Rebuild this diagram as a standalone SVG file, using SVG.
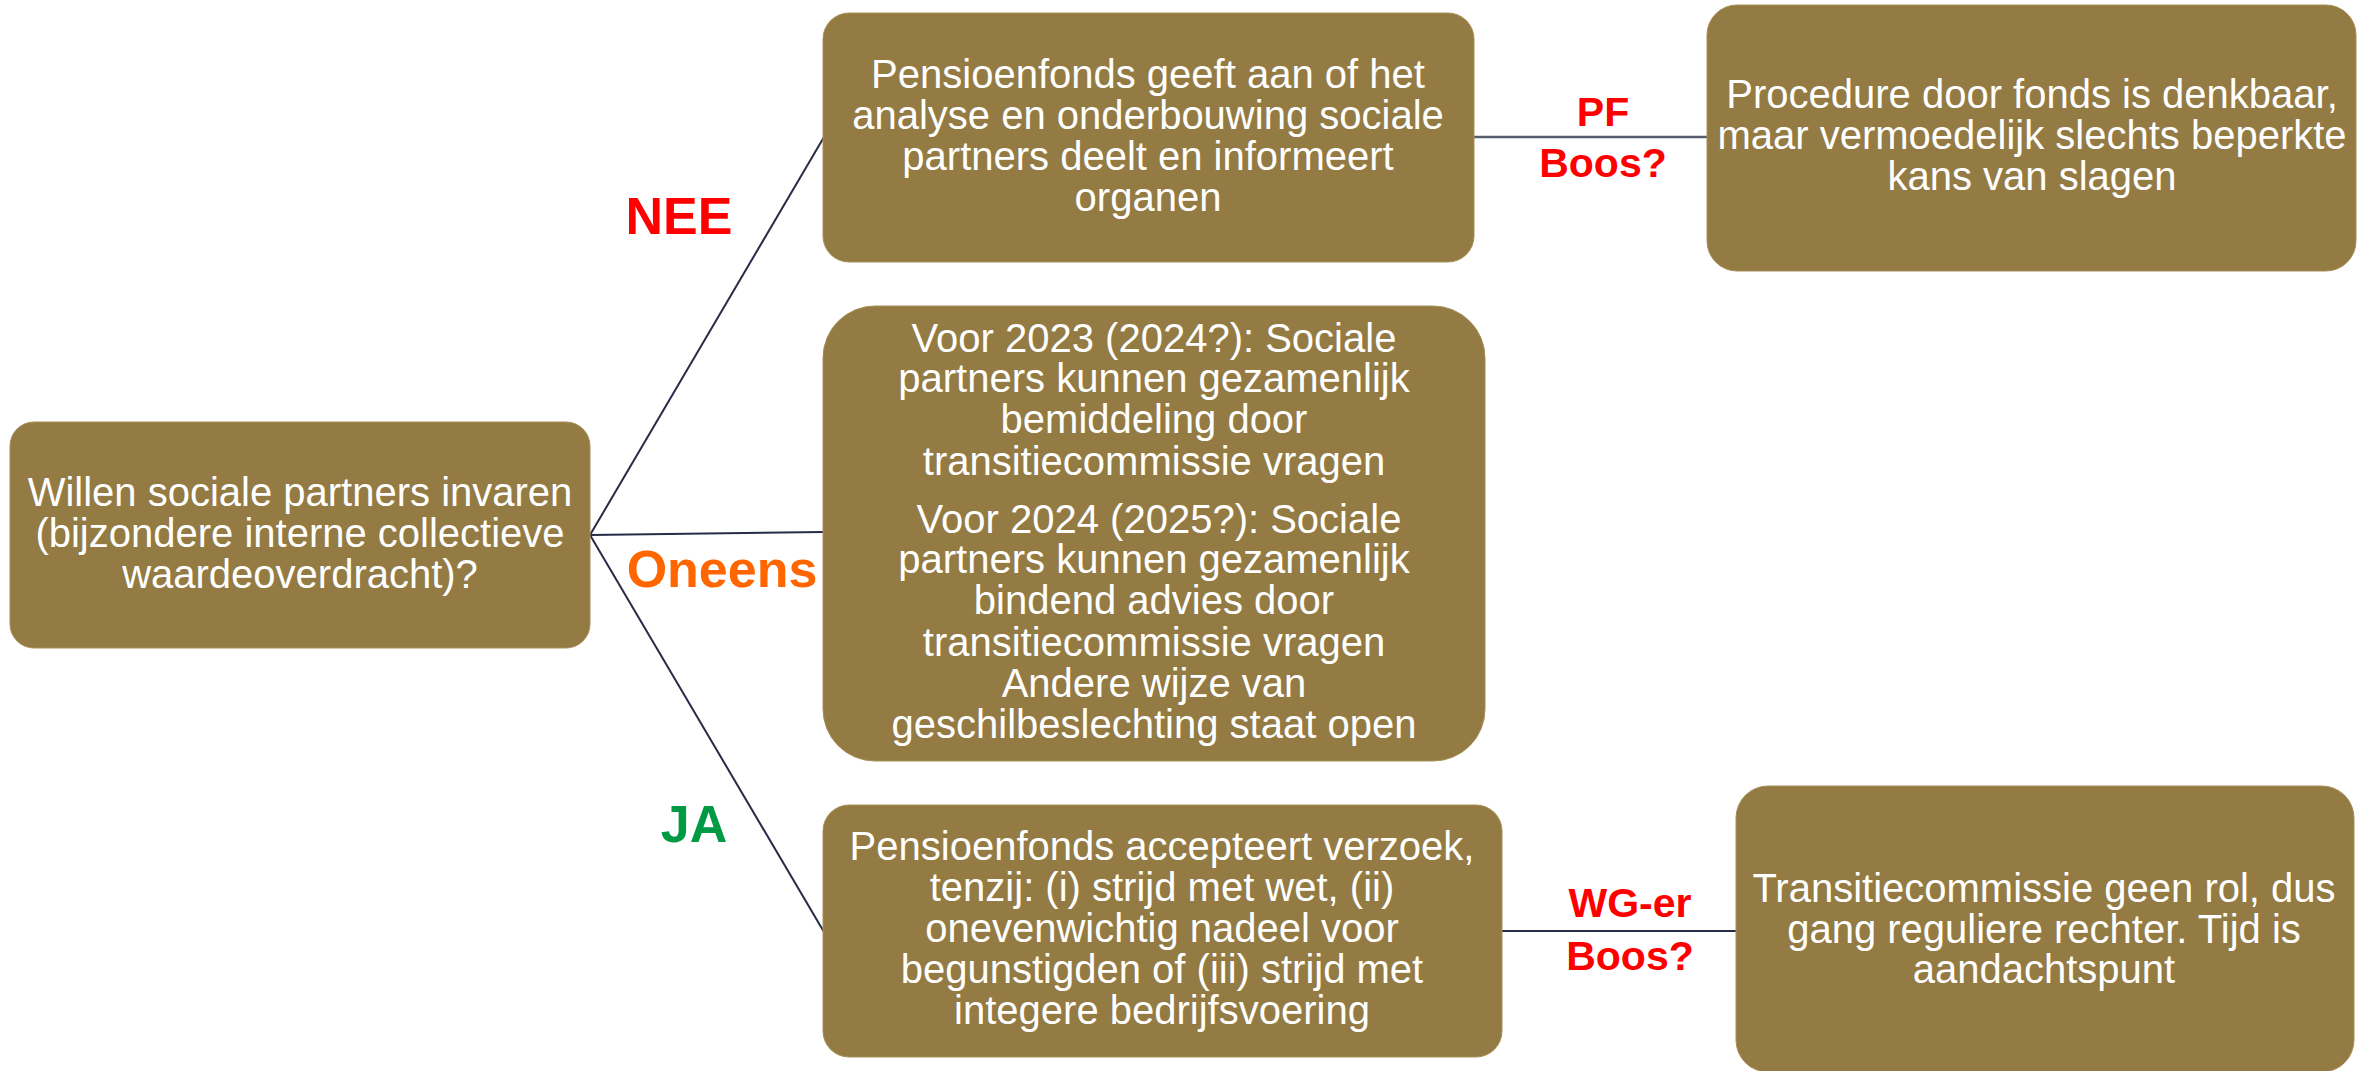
<svg xmlns="http://www.w3.org/2000/svg" width="2367" height="1071" viewBox="0 0 2367 1071">
  <style>
    .box { fill: #937B43; stroke: #A88F58; stroke-width: 1; }
    .txt { font-family: "Liberation Sans", Arial, sans-serif; font-size: 40px; fill: #FFFFFF; text-anchor: middle; }
    .lbl { font-family: "Liberation Sans", Arial, sans-serif; font-weight: bold; text-anchor: middle; }
    .big { font-size: 52px; }
    .small { font-size: 41px; }
    .red { fill: #FF0000; }
    .orange { fill: #FF6600; }
    .green { fill: #009A44; }
    .conn { stroke: #262B48; stroke-width: 2; fill: none; }
    .conn-grey { stroke: #585D6E; stroke-width: 2.5; fill: none; }
  </style>
  <rect width="2367" height="1071" fill="#FFFFFF"/>

  <!-- connectors -->
  <g id="connectors">
    <line class="conn" x1="590" y1="535" x2="824" y2="137"/>
    <line class="conn" x1="590" y1="535" x2="824" y2="532"/>
    <line class="conn" x1="590" y1="535" x2="824" y2="932"/>
    <line class="conn-grey" x1="1474" y1="137" x2="1707" y2="137"/>
    <line class="conn" x1="1502" y1="931" x2="1736" y2="931"/>
  </g>

  <!-- branch labels -->
  <g id="labels">
    <text class="lbl big red" x="679" y="234">NEE</text>
    <text class="lbl big orange" x="722" y="587">Oneens</text>
    <text class="lbl big green" x="694" y="842">JA</text>
    <text class="lbl small red" x="1603" y="126">PF</text>
    <text class="lbl small red" x="1603" y="177">Boos?</text>
    <text class="lbl small red" x="1630" y="917">WG-er</text>
    <text class="lbl small red" x="1630" y="970">Boos?</text>
  </g>

  <g id="node-start">
    <rect class="box" x="10" y="422" width="580" height="226" rx="24"/>
    <text class="txt" x="300" y="506">Willen sociale partners invaren</text>
    <text class="txt" x="300" y="547">(bijzondere interne collectieve</text>
    <text class="txt" x="300" y="588">waardeoverdracht)?</text>
  </g>

  <g id="node-nee">
    <rect class="box" x="823" y="13" width="651" height="249" rx="26"/>
    <text class="txt" x="1148" y="88">Pensioenfonds geeft aan of het</text>
    <text class="txt" x="1148" y="129">analyse en onderbouwing sociale</text>
    <text class="txt" x="1148" y="170">partners deelt en informeert</text>
    <text class="txt" x="1148" y="211">organen</text>
  </g>

  <g id="node-oneens">
    <rect class="box" x="823" y="306" width="662" height="455" rx="52"/>
    <text class="txt" x="1154" y="352">Voor 2023 (2024?): Sociale</text>
    <text class="txt" x="1154" y="392">partners kunnen gezamenlijk</text>
    <text class="txt" x="1154" y="433">bemiddeling door</text>
    <text class="txt" x="1154" y="475">transitiecommissie vragen</text>
    <text class="txt" x="1159" y="533">Voor 2024 (2025?): Sociale</text>
    <text class="txt" x="1154" y="573">partners kunnen gezamenlijk</text>
    <text class="txt" x="1154" y="614">bindend advies door</text>
    <text class="txt" x="1154" y="656">transitiecommissie vragen</text>
    <text class="txt" x="1154" y="697">Andere wijze van</text>
    <text class="txt" x="1154" y="738">geschilbeslechting staat open</text>
  </g>

  <g id="node-ja">
    <rect class="box" x="823" y="805" width="679" height="252" rx="26"/>
    <text class="txt" x="1162" y="860">Pensioenfonds accepteert verzoek,</text>
    <text class="txt" x="1162" y="901">tenzij: (i) strijd met wet, (ii)</text>
    <text class="txt" x="1162" y="942">onevenwichtig nadeel voor</text>
    <text class="txt" x="1162" y="983">begunstigden of (iii) strijd met</text>
    <text class="txt" x="1162" y="1024">integere bedrijfsvoering</text>
  </g>

  <g id="node-procedure">
    <rect class="box" x="1707" y="5" width="649" height="266" rx="30"/>
    <text class="txt" x="2032" y="108">Procedure door fonds is denkbaar,</text>
    <text class="txt" x="2032" y="149">maar vermoedelijk slechts beperkte</text>
    <text class="txt" x="2032" y="190">kans van slagen</text>
  </g>

  <g id="node-rechter">
    <rect class="box" x="1736" y="786" width="618" height="286" rx="32"/>
    <text class="txt" x="2044" y="902">Transitiecommissie geen rol, dus</text>
    <text class="txt" x="2044" y="943">gang reguliere rechter. Tijd is</text>
    <text class="txt" x="2044" y="983">aandachtspunt</text>
  </g>
</svg>
